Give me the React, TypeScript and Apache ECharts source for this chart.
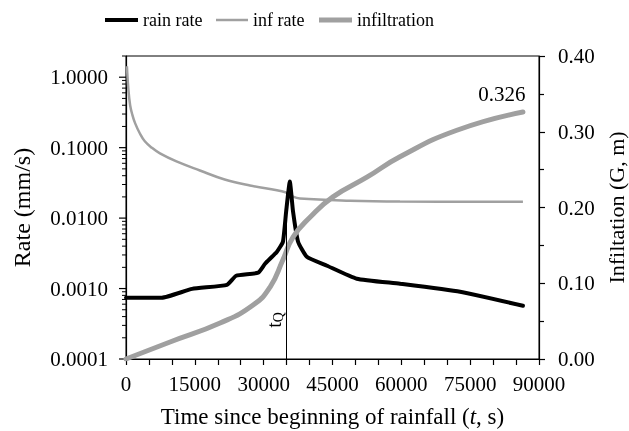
import React, { useEffect, useRef } from 'react';
import * as echarts from 'echarts';

const FONT = '"Liberation Serif", "Times New Roman", serif';

// rain rate (mm/s)
const timeRain = [0, 7800, 14400, 22000, 24000, 28800, 30300, 32900, 34200, 34900, 35700, 36400, 37500, 39400, 43800, 50300, 59700, 72800, 86500];
const rainRate = [0.00074, 0.00074, 0.00099, 0.00113, 0.00152, 0.00168, 0.00225, 0.00334, 0.00462, 0.0124, 0.0331, 0.0124, 0.00462, 0.00283, 0.00211, 0.00138, 0.00117, 0.0009, 0.00057];

// infiltration rate (mm/s)
const timeInf = [200, 500, 900, 1400, 2000, 3000, 4100, 5600, 7400, 11000, 16100, 21500, 27000, 34900, 36400, 37900, 48800, 59700, 86500];
const infRate = [1.43, 0.7, 0.4, 0.29, 0.221, 0.16, 0.123, 0.1, 0.0828, 0.0637, 0.0474, 0.0353, 0.029, 0.0231, 0.0202, 0.019, 0.0177, 0.0172, 0.017];

// cumulative infiltration G (m)
const timeG = [0, 9600, 20500, 27700, 31400, 34200, 36400, 40100, 45100, 52500, 59700, 72100, 86500];
const infiltration = [0, 0.0224, 0.0475, 0.0713, 0.095, 0.131, 0.161, 0.187, 0.214, 0.24, 0.267, 0.302, 0.326];

const tQ = 35000;
const tQRate = 0.0231;

const leftMajorTicks = [0.0001, 0.001, 0.01, 0.1, 1];
const leftMinorMultipliers = [2, 3, 4, 5, 6, 7, 8, 9];

const GRAY = '#a0a0a0';

export default function App() {
  const ref = useRef<HTMLDivElement>(null);
  useEffect(() => {
    const chart = echarts.init(ref.current!, null, { renderer: 'svg' });
    const rainData = timeRain.map((t, i) => [t, rainRate[i]]);
    const infData = timeInf.map((t, i) => [t, infRate[i]]);
    const gData = timeG.map((t, i) => [t, infiltration[i]]);
    const last = gData.length - 1;
    const legendBase = {
      top: 11,
      padding: 0,
      icon: 'rect',
      itemGap: 0,
      textStyle: { fontSize: 18, fontFamily: FONT, color: '#000' },
    };
    chart.setOption({
      animation: false,
      textStyle: { fontFamily: FONT, color: '#000' },
      legend: [
        { ...legendBase, left: 105, itemWidth: 33, itemHeight: 4, data: ['rain rate'] },
        { ...legendBase, left: 216, itemWidth: 32, itemHeight: 2.5, data: ['inf rate'] },
        { ...legendBase, left: 319, itemWidth: 33, itemHeight: 5, data: ['infiltration'] },
      ],
      grid: {
        left: 126,
        right: 90,
        top: 56,
        bottom: 72,
        show: true,
        borderColor: '#000',
        borderWidth: 1,
        backgroundColor: 'transparent',
        outerBoundsMode: 'none',
        containLabel: false,
      },
      xAxis: {
        type: 'value',
        min: 0,
        max: 90000,
        interval: 5000,
        name: 'Time since beginning of rainfall ({i|t}, s)',
        nameLocation: 'middle',
        nameGap: 46,
        nameTextStyle: {
          fontSize: 23,
          fontFamily: FONT,
          color: '#000',
          rich: { i: { fontStyle: 'italic', fontSize: 23, fontFamily: FONT, color: '#000' } },
        },
        axisLine: { lineStyle: { color: '#000', width: 1.2 } },
        axisTick: { show: true, length: 6, lineStyle: { color: '#000', width: 1.2 } },
        axisLabel: {
          margin: 14,
          fontSize: 21,
          fontFamily: FONT,
          color: '#000',
          formatter: (v: number) => (v % 15000 === 0 ? String(v) : ''),
        },
        splitLine: { show: false },
      },
      yAxis: [
        {
          type: 'log',
          logBase: 10,
          min: 0.0001,
          max: 2,
          position: 'left',
          name: 'Rate (mm/s)',
          nameLocation: 'middle',
          nameGap: 92,
          nameTextStyle: { fontSize: 24, fontFamily: FONT, color: '#000' },
          axisLine: { show: true, lineStyle: { color: '#000', width: 1.2 } },
          axisTick: { show: false },
          axisLabel: {
            margin: 18,
            fontSize: 21,
            fontFamily: FONT,
            color: '#000',
            showMaxLabel: false,
            formatter: (v: number) => {
              const l = Math.log10(v);
              return Math.abs(l - Math.round(l)) < 1e-6 && v <= 1 ? v.toFixed(4) : '';
            },
          },
          splitLine: { show: false },
        },
        {
          type: 'value',
          min: 0,
          max: 0.4,
          interval: 0.1,
          position: 'right',
          name: 'Infiltation (G, m)',
          nameLocation: 'middle',
          nameGap: 63,
          nameTextStyle: { fontSize: 22, fontFamily: FONT, color: '#000' },
          axisLine: { show: true, lineStyle: { color: '#000', width: 1.2 } },
          axisTick: { show: true, length: 6, lineStyle: { color: '#000', width: 1.2 } },
          minorTick: { show: true, splitNumber: 2, length: 5, lineStyle: { color: '#000', width: 1.2 } },
          axisLabel: {
            margin: 19,
            fontSize: 21,
            fontFamily: FONT,
            color: '#000',
            formatter: (v: number) => v.toFixed(2),
          },
          splitLine: { show: false },
        },
      ],
      series: [
        {
          name: 'inf rate',
          type: 'line',
          yAxisIndex: 0,
          data: infData,
          symbol: 'none',
          smooth: 0.4,
          lineStyle: { color: GRAY, width: 2.5 },
          itemStyle: { color: GRAY },
          z: 2,
          markLine: {
            silent: true,
            symbol: 'none',
            label: { show: false },
            lineStyle: { color: '#000', width: 1, type: 'solid' },
            data: [[{ coord: [tQ, tQRate] }, { coord: [tQ, 0.0001] }]],
          },
        },
        {
          name: 'rain rate',
          type: 'line',
          yAxisIndex: 0,
          data: rainData,
          symbol: 'none',
          smooth: 0.15,
          lineStyle: { color: '#000', width: 4, join: 'round', cap: 'round' },
          itemStyle: { color: '#000' },
          z: 3,
        },
        {
          name: 'infiltration',
          type: 'line',
          yAxisIndex: 1,
          data: gData,
          symbol: 'none',
          smooth: 0.5,
          lineStyle: { color: GRAY, width: 5, cap: 'round' },
          itemStyle: { color: GRAY },
          z: 4,
          markPoint: {
            silent: true,
            symbol: 'circle',
            symbolSize: 1,
            itemStyle: { color: 'transparent' },
            data: [
              {
                coord: gData[last],
                label: {
                  show: true,
                  position: 'top',
                  distance: 7,
                  offset: [-21, 0],
                  formatter: infiltration[last].toFixed(3),
                  color: '#000',
                  fontSize: 21,
                  fontFamily: FONT,
                },
              },
            ],
          },
        },
      ],
    });

    const x0 = chart.convertToPixel({ xAxisIndex: 0 }, 0) as number;
    const graphics: any[] = [];
    leftMajorTicks.forEach((m) => {
      const y = chart.convertToPixel({ yAxisIndex: 0 }, m) as number;
      graphics.push({
        type: 'line',
        shape: { x1: x0 - 7, y1: y, x2: x0, y2: y },
        style: { stroke: '#000', lineWidth: 1.2 },
      });
      leftMinorMultipliers.forEach((k) => {
        const v = m * k;
        if (v > 2.0001) return;
        const yy = chart.convertToPixel({ yAxisIndex: 0 }, v) as number;
        graphics.push({
          type: 'line',
          shape: { x1: x0 - 4, y1: yy, x2: x0, y2: yy },
          style: { stroke: '#000', lineWidth: 1 },
        });
      });
    });
    const xq = chart.convertToPixel({ xAxisIndex: 0 }, tQ) as number;
    graphics.push({
      type: 'text',
      x: xq - 13,
      y: 320,
      rotation: Math.PI / 2,
      style: {
        text: '{t|t}{q|Q}',
        align: 'center',
        verticalAlign: 'middle',
        rich: {
          t: { fontSize: 20, fontFamily: FONT, fill: '#000', color: '#000' },
          q: { fontSize: 14, fontFamily: FONT, fill: '#000', color: '#000', padding: [10, 0, 0, 0] },
        },
      },
    });
    chart.setOption({ graphic: graphics });

    return () => chart.dispose();
  }, []);
  return <div ref={ref} style={{ position: 'fixed', left: 0, top: 0, width: 629, height: 431 }} />;
}
